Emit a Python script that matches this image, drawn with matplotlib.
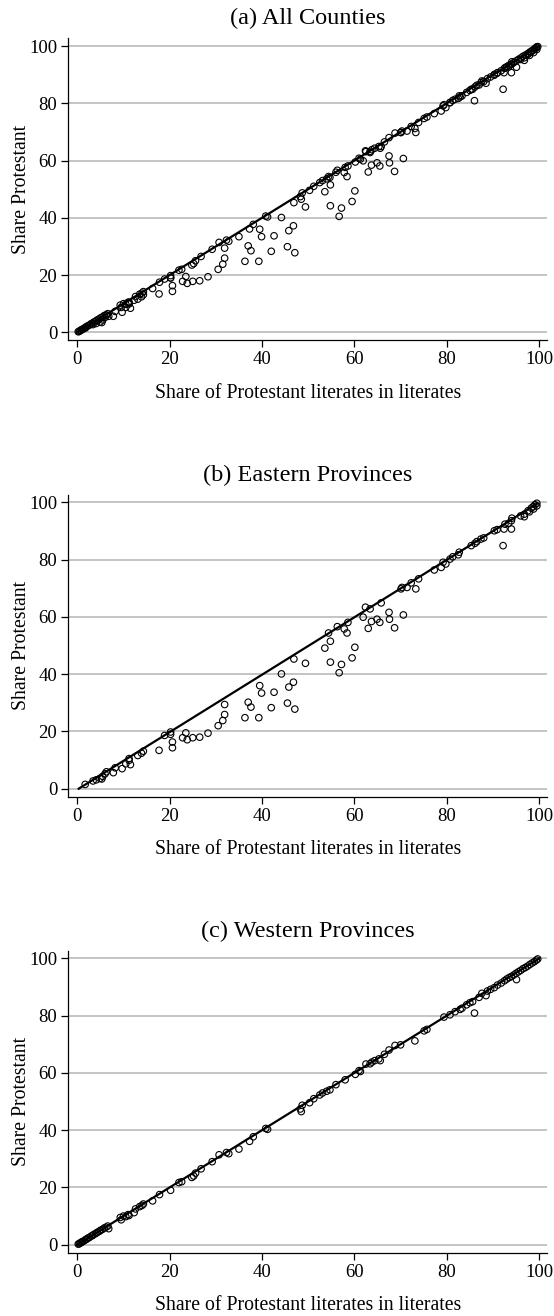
import matplotlib
matplotlib.use("Agg")
import matplotlib.pyplot as plt

plt.rcParams['font.family'] = ['Liberation Serif', 'DejaVu Serif']

# Eastern provinces
east_x = [1.7, 3.4, 4.1, 4.9, 5.5, 5.3, 6.0, 6.3, 7.8, 8.2, 9.7, 10.5, 11.2, 11.5, 11.2,
          13.1, 13.9, 14.3, 17.7, 18.9, 20.2, 20.2, 20.6, 20.6, 22.8, 23.5, 23.8, 25.0,
          26.5, 28.3, 30.5, 31.5, 31.9, 31.9, 36.3, 37.0, 37.6, 39.3, 39.5, 39.9, 42.0,
          42.6, 44.2, 45.5, 45.8, 46.8, 47.1, 46.9, 49.4, 53.6, 54.4, 54.8, 54.8, 56.7,
          57.2, 56.3, 57.8, 58.4, 58.6, 59.5, 60.1, 61.9, 62.4, 63.0, 63.4, 63.7, 64.9,
          65.5, 65.8, 67.5, 67.6, 68.7, 70.1, 70.3, 70.6, 71.4, 72.3, 73.3, 73.9, 77.3,
          78.8, 79.2, 79.8, 80.7, 81.3, 82.5, 82.7, 85.3, 86.1, 86.5, 87.4, 88.0, 90.3,
          90.9, 92.2, 92.6, 92.4, 93.4, 94.0, 94.0, 94.1, 96.0, 96.8, 96.8, 97.6, 98.3,
          98.7, 99.1, 99.5, 99.5, 98.8, 97.9]
east_y = [1.5, 2.7, 3.1, 3.6, 4.3, 3.4, 5.2, 5.9, 5.6, 7.3, 7.0, 8.7, 9.9, 8.4, 10.5,
          11.6, 12.4, 13.1, 13.4, 18.6, 19.0, 19.8, 16.3, 14.3, 17.8, 19.5, 17.1, 17.8,
          18.0, 19.4, 22.0, 23.8, 25.9, 29.4, 24.8, 30.2, 28.5, 24.8, 36.0, 33.4, 28.3,
          33.7, 40.1, 29.9, 35.5, 37.2, 27.8, 45.3, 43.8, 49.1, 54.4, 51.5, 44.2, 40.5,
          43.4, 56.6, 55.8, 54.4, 58.1, 45.7, 49.4, 59.9, 63.4, 56.0, 62.8, 58.4, 59.2,
          58.1, 64.9, 61.6, 59.2, 56.2, 69.8, 70.3, 60.7, 70.3, 71.9, 69.8, 73.3, 76.4,
          77.3, 79.1, 78.5, 80.2, 81.0, 81.7, 82.6, 84.9, 85.7, 86.3, 87.2, 87.6, 90.1,
          90.5, 84.9, 92.4, 90.7, 92.7, 90.7, 93.6, 94.5, 95.3, 95.9, 95.0, 97.1, 98.0,
          98.5, 99.2, 99.7, 98.8, 97.7, 96.7]

# Western provinces
west_x = [0.2, 0.4, 0.6, 0.8, 1.0, 1.2, 1.5, 1.8, 2.0, 2.3, 2.6, 3.0, 3.3, 3.6, 4.0,
          4.3, 4.7, 5.0, 5.4, 5.8, 6.2, 6.6, 6.8, 9.3, 9.5, 10.0, 10.5, 11.0, 11.2, 12.3,
          12.6, 13.5, 14.0, 14.3, 16.3, 17.8, 20.2, 22.0, 22.6, 24.8, 25.2, 25.6, 26.8,
          29.2, 30.7, 32.3, 32.8, 35.0, 37.3, 38.1, 40.8, 41.2, 48.3, 48.5, 48.7, 50.3,
          51.2, 52.5, 53.1, 54.0, 54.7, 56.0, 58.0, 60.2, 61.0, 61.3, 62.5, 63.4, 63.8,
          64.4, 65.3, 65.6, 66.5, 67.5, 68.8, 70.0, 73.1, 75.1, 75.7, 79.4, 80.7, 81.8,
          82.9, 83.3, 84.3, 85.0, 85.6, 86.0, 87.0, 87.6, 88.5, 88.8, 89.5, 90.3, 91.0,
          91.8, 92.5, 93.0, 93.5, 94.0, 94.5, 95.1, 95.0, 95.5, 96.0, 96.5, 97.0, 97.5,
          98.0, 98.5, 99.0, 99.4, 99.7]
west_y = [0.2, 0.3, 0.6, 0.7, 1.0, 1.1, 1.4, 1.8, 1.9, 2.3, 2.5, 3.0, 3.2, 3.6, 3.9,
          4.3, 4.6, 5.0, 5.3, 5.8, 6.1, 6.5, 5.6, 9.5, 8.7, 10.0, 9.8, 10.5, 10.2, 11.2,
          12.5, 13.3, 13.7, 14.2, 15.3, 17.5, 19.0, 21.7, 22.0, 23.5, 24.0, 25.0, 26.5,
          29.0, 31.4, 32.2, 31.8, 33.4, 36.1, 37.7, 40.6, 40.3, 47.4, 46.5, 48.7, 49.6,
          51.0, 52.3, 53.0, 53.6, 54.1, 55.9, 57.6, 59.5, 60.8, 60.5, 63.1, 63.2, 63.8,
          64.3, 64.9, 64.3, 66.5, 68.0, 69.6, 69.8, 71.2, 74.7, 75.2, 79.5, 80.3, 81.4,
          82.2, 82.6, 83.8, 84.5, 84.9, 80.9, 86.4, 87.8, 87.0, 88.6, 89.2, 89.8, 90.7,
          91.4, 92.2, 92.8, 93.3, 93.7, 94.2, 92.6, 94.8, 95.3, 95.8, 96.4, 96.8, 97.3,
          97.9, 98.4, 98.9, 99.4, 99.8]

# fitted lines
line_all_x = [0.0, 100.0]
line_all_y = [0.0, 100.0]
line_east_x = [0.3, 99.6]
line_east_y = [0.0, 99.6]
line_west_x = [0.0, 100.0]
line_west_y = [0.0, 100.0]

ticks = [0, 20, 40, 60, 80, 100]

panels = [
    ("(a) All Counties", east_x + west_x, east_y + west_y, line_all_x, line_all_y, 0.7414),
    ("(b) Eastern Provinces", east_x, east_y, line_east_x, line_east_y, 0.3946),
    ("(c) Western Provinces", west_x, west_y, line_west_x, line_west_y, 0.0481),
]

fig = plt.figure(figsize=(5.54, 13.16), dpi=100)

for title, xs, ys, lx, ly, bottom in panels:
    ax = fig.add_axes([0.1233, bottom, 0.864, 0.2295])
    ax.scatter(xs, ys, s=22, facecolors='none', edgecolors='black', linewidths=0.8, zorder=3)
    ax.plot(lx, ly, color='black', lw=1.6, zorder=4)
    ax.set_xlim(-1.95, 101.7)
    ax.set_ylim(-2.8, 102.7)
    ax.set_xticks(ticks)
    ax.set_yticks(ticks)
    ax.yaxis.grid(True, color='#b4b4b4', lw=1.1)
    ax.set_axisbelow(True)
    for side in ['top', 'right']:
        ax.spines[side].set_visible(False)
    for side in ['left', 'bottom']:
        ax.spines[side].set_linewidth(0.9)
    ax.tick_params(labelsize=13.5, length=5, width=0.9, pad=3)
    ax.set_title(title, fontsize=17.5, pad=10)
    ax.set_xlabel("Share of Protestant literates in literates", fontsize=14.2, labelpad=11)
    ax.set_ylabel("Share Protestant", fontsize=14.2)
    ax.yaxis.set_label_coords(-0.078, 0.5)

fig.savefig("out.png", dpi=100)
